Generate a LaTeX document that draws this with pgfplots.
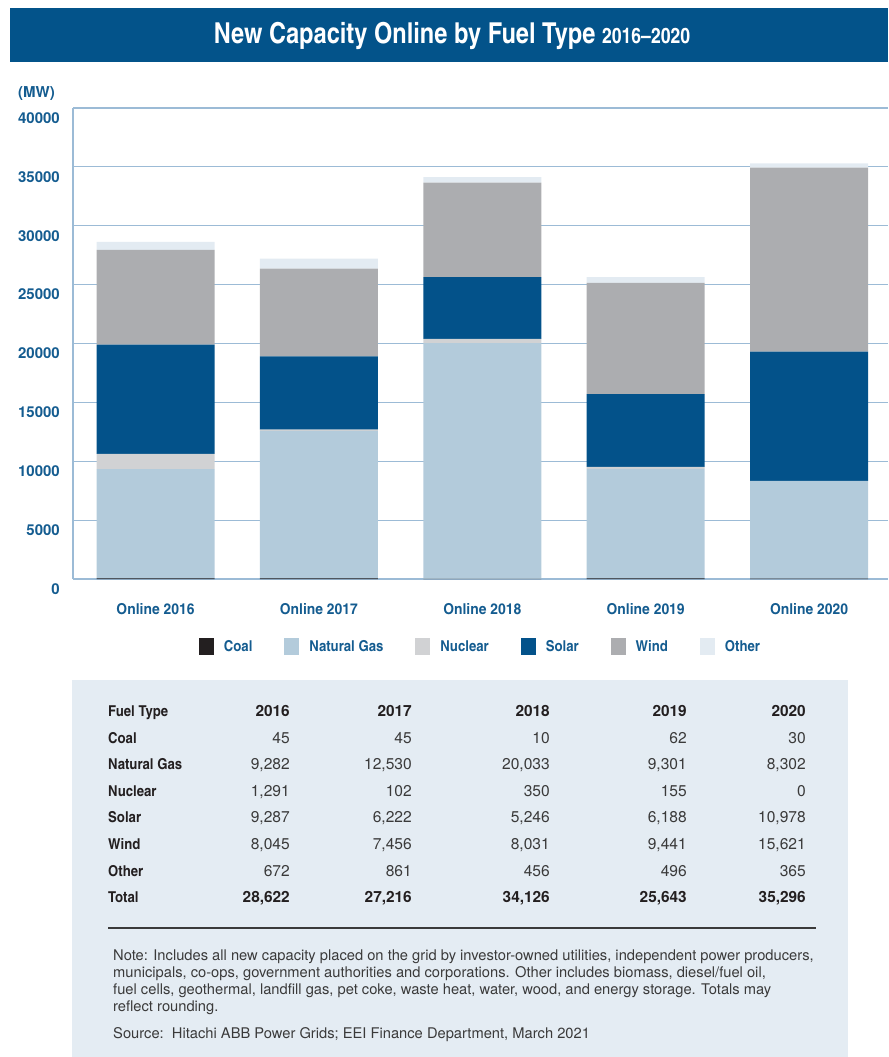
\documentclass[border=0pt]{standalone}
\usepackage{fontspec}
\setmainfont{texgyreheroscn}[Extension=.otf, UprightFont=*-regular, BoldFont=*-bold, ItalicFont=*-italic, BoldItalicFont=*-bolditalic]
\newfontfamily\helv{texgyreheros}[Extension=.otf, UprightFont=*-regular, BoldFont=*-bold]
\newfontfamily\cnA{texgyreheroscn}[Extension=.otf, UprightFont=*-regular, BoldFont=*-bold, FakeStretch=1.07]
\newfontfamily\cnB{texgyreheroscn}[Extension=.otf, UprightFont=*-regular, BoldFont=*-bold, FakeStretch=1.13]
\usepackage{pgfplots}
\usepackage{pgfplotstable}
\pgfplotsset{compat=1.18}

\definecolor{coal}{HTML}{231F20}
\definecolor{gas}{HTML}{B3CBDB}
\definecolor{nuclear}{HTML}{D1D2D4}
\definecolor{solar}{HTML}{03528A}
\definecolor{wind}{HTML}{ACADB0}
\definecolor{other}{HTML}{E3EBF2}
\definecolor{band}{HTML}{03538A}
\definecolor{labelblue}{HTML}{145C90}
\definecolor{gridblue}{HTML}{9CBBD6}
\definecolor{panel}{HTML}{E4ECF3}
\definecolor{bodytext}{HTML}{3A3A3A}

% new capacity online (MW)
\pgfplotstableread{
idx coal gas   nuclear solar wind  other
0   45   9282  1291    9287  8045  672
1   45   12530 102     6222  7456  861
2   10   20033 350     5246  8031  456
3   62   9301  155     6188  9441  496
4   30   8302  0       10978 15621 365
}\capdata

\pgfplotsset{fuel/.style={fill=#1, draw=none,
  legend image code/.code={\fill[#1] (0pt,-8.5pt) rectangle (15pt,8.5pt);}}}

\def\lab{\cnA\bfseries\fontsize{15}{17}\selectfont}
\def\bnum{\helv\bfseries\fontsize{15.4}{17}\selectfont}
\def\rnum{\helv\fontsize{15.6}{17}\selectfont}

\newcommand\trow[8]{%
  \node[anchor=mid west, font=\lab, text=coal] at (108,-#1) {#3};
  \node[anchor=mid east, font=#2] at (290,-#1) {#4};
  \node[anchor=mid east, font=#2] at (412,-#1) {#5};
  \node[anchor=mid east, font=#2] at (550,-#1) {#6};
  \node[anchor=mid east, font=#2] at (687,-#1) {#7};
  \node[anchor=mid east, font=#2] at (806,-#1) {#8};}

\begin{document}
\begin{tikzpicture}[x=1pt,y=1pt]
\path (0,0) rectangle (888,-1057);
\fill[band] (10,-8) rectangle (888,-62);
\node[text=white, font=\bfseries\fontsize{28.8}{30}\selectfont] at (452,-36)
  {New Capacity Online by Fuel Type {\fontsize{21.5}{22}\selectfont 2016--2020}};
\node[anchor=mid west, inner sep=0pt, text=labelblue, font=\helv\bfseries\fontsize{15}{16}\selectfont] at (18,-95) {(MW)};

\begin{axis}[
  at={(73pt,-579pt)}, anchor=south west,
  scale only axis, width=815pt, height=471pt,
  ybar stacked, bar width=0.722,
  xmin=-0.505, xmax=4.483, ymin=0, ymax=40000,
  xtick={0,1,2,3,4},
  xticklabels={Online 2016,Online 2017,Online 2018,Online 2019,Online 2020},
  ytick={0,5000,...,40000},
  scaled y ticks=false,
  /pgf/number format/assume math mode=true,
  /pgf/number format/1000 sep={},
  ymajorgrids, grid style={gridblue, line width=1.1pt},
  axis x line*=bottom, axis y line*=left,
  axis line style={gridblue, line width=1.1pt, -},
  major tick length=0pt,
  tick label style={text=labelblue},
  yticklabel style={font=\helv\bfseries\fontsize{15}{17}\selectfont,
    anchor=east, inner sep=0pt, xshift=-13pt, yshift=-10pt},
  xticklabel style={font=\cnB\bfseries\fontsize{15}{17}\selectfont,
    anchor=mid, inner sep=0pt, yshift=-33pt},
  legend columns=6,
  legend style={at={(0.5,-0.144)}, anchor=center, draw=none, fill=none,
    font=\cnA\bfseries\fontsize{15}{17}\selectfont, text=labelblue,
    /tikz/every even column/.append style={column sep=30pt},
    /tikz/every odd column/.append style={column sep=8pt}},
]
\addplot[fuel=coal]    table[x=idx, y=coal]    {\capdata};
\addplot[fuel=gas]     table[x=idx, y=gas]     {\capdata};
\addplot[fuel=nuclear] table[x=idx, y=nuclear] {\capdata};
\addplot[fuel=solar]   table[x=idx, y=solar]   {\capdata};
\addplot[fuel=wind]    table[x=idx, y=wind]    {\capdata};
\addplot[fuel=other]   table[x=idx, y=other]   {\capdata};
\legend{Coal, Natural Gas, Nuclear, Solar, Wind, Other}
\end{axis}

\fill[panel] (72,-680) rectangle (848,-1057);
\begin{scope}[every node/.append style={inner sep=0pt}]
\begin{scope}[text=coal]
\trow{714}{\bnum}{Fuel Type}{2016}{2017}{2018}{2019}{2020}
\end{scope}
\begin{scope}[text=bodytext]
\trow{741}{\rnum}{Coal}{45}{45}{10}{62}{30}
\trow{767}{\rnum}{Natural Gas}{9,282}{12,530}{20,033}{9,301}{8,302}
\trow{794}{\rnum}{Nuclear}{1,291}{102}{350}{155}{0}
\trow{820}{\rnum}{Solar}{9,287}{6,222}{5,246}{6,188}{10,978}
\trow{847}{\rnum}{Wind}{8,045}{7,456}{8,031}{9,441}{15,621}
\trow{874}{\rnum}{Other}{672}{861}{456}{496}{365}
\end{scope}
\begin{scope}[text=coal]
\trow{900}{\bnum}{Total}{28,622}{27,216}{34,126}{25,643}{35,296}
\end{scope}
\end{scope}
\draw[bodytext, line width=1.6pt] (108,-928) -- (816,-928);
\node[anchor=north west, align=left, inner sep=0pt, text=bodytext,
  font=\helv\fontsize{14.7}{16.9}\selectfont] at (113,-950)
  {Note: Includes all new capacity placed on the grid by investor-owned utilities, independent power producers,\\
   municipals, co-ops, government authorities and corporations. Other includes biomass, diesel/fuel oil,\\
   fuel cells, geothermal, landfill gas, pet coke, waste heat, water, wood, and energy storage. Totals may\\
   reflect rounding.};
\node[anchor=mid west, inner sep=0pt, text=bodytext, font=\helv\fontsize{14.7}{16.8}\selectfont] at (113,-1036)
  {Source:\ \ Hitachi ABB Power Grids; EEI Finance Department, March 2021};
\end{tikzpicture}
\end{document}
